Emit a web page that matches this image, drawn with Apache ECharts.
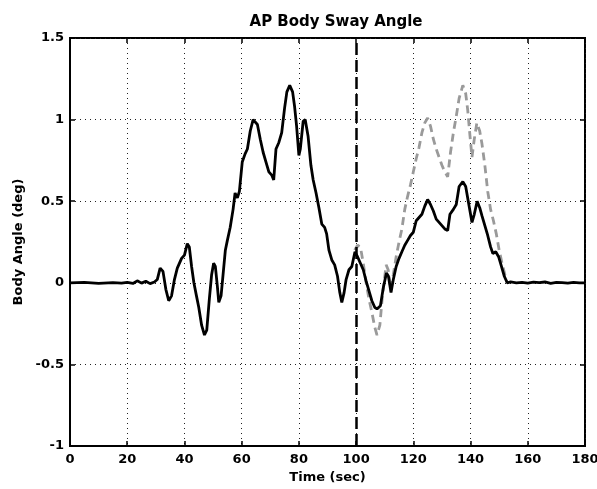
<!DOCTYPE html>
<html>
<head>
<meta charset="utf-8">
<script src="https://cdn.jsdelivr.net/npm/echarts@6/dist/echarts.min.js"></script>
<style>
  html, body { margin: 0; padding: 0; background: #fff; }
  #chart { width: 597px; height: 489px; }
</style>
</head>
<body>
<div id="chart"></div>
<script>
// measured sway (black, solid)
var timeMeasured = [0, 5, 10, 15, 18, 20, 22, 23.5, 25, 26.5, 28, 29.5, 30.5, 31.5, 32.5, 33.5, 34.5, 35.5, 36.5, 37.5,
    39, 40, 41, 41.7, 42.5, 43.3, 44.2, 45, 46, 47, 47.8, 48.7, 49.5, 50.2, 50.8, 51.5, 52, 52.8, 53.5, 54.3,
    55, 56, 57, 57.7, 58.5, 59.2, 60.2, 61.2, 62, 63, 64, 64.6, 65.5, 66.5, 67.5, 68.5, 69.5, 70.5, 71.2, 72,
    73, 74, 75, 75.8, 76.8, 77.8, 78.5, 79.2, 80, 80.5, 81.5, 82.2, 83.2, 84.2, 85, 86, 87, 88, 89, 89.7,
    90.5, 91.5, 92.5, 93.5, 94.3, 95, 95.8, 96.5, 97.5, 98.5, 99.6, 100.5, 101.5, 102.5, 103.5, 104.5, 105.5, 106.5,
    107.3, 108.5, 109.5, 110.6, 111.3, 112.2, 113, 114, 115, 116, 117, 118, 119, 120, 121, 122, 123, 124,
    125, 126, 127, 128, 129, 130, 131, 132, 132.8, 134, 135, 136, 137.3, 138.3, 139, 139.8, 140.5, 141.3, 142.3, 143.2,
    144, 145, 146, 147, 147.8, 148.8, 149.8, 150.8, 151.8, 152.8, 154, 156, 158, 160, 162, 164, 166, 168, 170, 172,
    174, 176, 178, 180];
var angleMeasured = [0, 0.002, -0.003, 0.001, -0.002, 0.003, -0.004, 0.012, -0.002, 0.01, -0.005, 0.005, 0.02, 0.09, 0.07, -0.04, -0.11, -0.08, 0.02, 0.09,
    0.15, 0.17, 0.24, 0.22, 0.1, 0.0, -0.08, -0.15, -0.26, -0.32, -0.29, -0.1, 0.05, 0.12, 0.1, -0.02, -0.12, -0.08, 0.05, 0.2,
    0.26, 0.34, 0.45, 0.55, 0.52, 0.56, 0.74, 0.79, 0.82, 0.93, 1.0, 1.01, 0.97, 0.88, 0.8, 0.74, 0.68, 0.66, 0.63, 0.82,
    0.86, 0.92, 1.07, 1.17, 1.21, 1.17, 1.08, 0.96, 0.78, 0.82, 0.99, 1.0, 0.9, 0.72, 0.63, 0.55, 0.46, 0.36, 0.34, 0.3,
    0.2, 0.14, 0.11, 0.04, -0.06, -0.12, -0.06, 0.02, 0.08, 0.1, 0.19, 0.16, 0.12, 0.08, 0.01, -0.05, -0.11, -0.15,
    -0.16, -0.14, -0.03, 0.06, 0.04, -0.06, 0.02, 0.1, 0.15, 0.19, 0.23, 0.26, 0.29, 0.31, 0.38, 0.4, 0.42, 0.47,
    0.51, 0.48, 0.44, 0.39, 0.37, 0.35, 0.33, 0.32, 0.42, 0.45, 0.48, 0.59, 0.62, 0.59, 0.52, 0.44, 0.37, 0.42, 0.5, 0.46,
    0.41, 0.35, 0.29, 0.22, 0.18, 0.19, 0.16, 0.1, 0.04, 0.0, 0.005, 0.0, 0.003, -0.002, 0.004, 0.001, 0.005, -0.003, 0.002, 0.001,
    -0.002, 0.002, 0.0, 0.0];

// gray dashed trace after the 100 s mark
var timeGray = [99.5, 100.5, 101.5, 102.5, 103.5, 104.5, 105.5, 106.5, 107.3, 108.3, 109.2, 110.5, 111.2, 112.1, 113, 114,
    115, 116, 117, 118, 119, 120, 121, 122, 123, 124, 125, 126, 127, 128, 129, 130, 131, 132, 133, 134,
    135, 136, 137.3, 138.3, 139, 139.8, 140.5, 141.3, 142.2, 143.2, 144, 145, 146, 147, 148, 149, 150, 151, 152, 152.8];
var angleGray = [0.2, 0.23, 0.22, 0.12, 0.0, -0.1, -0.18, -0.27, -0.32, -0.26, -0.08, 0.11, 0.08, -0.04, 0.05, 0.16,
    0.25, 0.33, 0.45, 0.53, 0.6, 0.68, 0.76, 0.83, 0.92, 0.98, 1.01, 0.96, 0.88, 0.82, 0.77, 0.72, 0.68, 0.65, 0.8, 0.92,
    1.02, 1.13, 1.21, 1.16, 1.06, 0.9, 0.77, 0.88, 0.98, 0.93, 0.85, 0.72, 0.56, 0.45, 0.38, 0.3, 0.2, 0.12, 0.05, 0.0];

var markTime = 100;

var zip = (xs, ys) => xs.map((x, i) => [x, ys[i]]);

var chart = echarts.init(document.getElementById('chart'));
var font = 'DejaVu Sans, Liberation Sans, sans-serif';

var labelStyle = { color: '#000', fontFamily: font, fontWeight: 'bold', fontSize: 13 };
var tickStyle = { inside: true, length: 5, lineStyle: { color: '#000', width: 1.5 } };
var dotted = { show: true, lineStyle: { color: '#222', type: [1, 4], width: 1 } };

var option = {
    animation: false,
    backgroundColor: '#fff',
    title: {
        text: 'AP Body Sway Angle',
        left: 331,
        textAlign: 'center',
        top: 10,
        textStyle: { color: '#000', fontFamily: font, fontWeight: 'bold', fontSize: 15 }
    },
    grid: {
        left: 70, right: 12, top: 38, bottom: 43,
        outerBoundsMode: 'none',
        containLabel: false,
        show: true, borderColor: '#000', borderWidth: 2
    },
    xAxis: [{
        type: 'value', min: 0, max: 180, interval: 20,
        name: 'Time (sec)', nameLocation: 'middle', nameGap: 25,
        nameTextStyle: labelStyle,
        axisLine: { onZero: false, lineStyle: { color: '#000', width: 2 } },
        axisTick: tickStyle,
        axisLabel: Object.assign({ margin: 7 }, labelStyle),
        splitLine: dotted
    }, {
        type: 'value', min: 0, max: 180, interval: 20, position: 'top',
        axisLine: { show: false, onZero: false },
        axisTick: tickStyle,
        axisLabel: { show: false },
        splitLine: { show: false }
    }],
    yAxis: [{
        type: 'value', min: -1, max: 1.5, interval: 0.5,
        name: 'Body Angle (deg)', nameLocation: 'middle', nameGap: 42,
        nameTextStyle: labelStyle,
        axisLine: { show: true, onZero: false, lineStyle: { color: '#000', width: 2 } },
        axisTick: Object.assign({ show: true }, tickStyle),
        axisLabel: Object.assign({ margin: 6 }, labelStyle),
        splitLine: dotted
    }, {
        type: 'value', min: -1, max: 1.5, interval: 0.5, position: 'right',
        axisLine: { show: false, onZero: false },
        axisTick: Object.assign({ show: true }, tickStyle),
        axisLabel: { show: false },
        splitLine: { show: false }
    }],
    series: [{
        name: 'Gray',
        type: 'line',
        data: zip(timeGray, angleGray),
        showSymbol: false,
        lineStyle: { color: '#9a9a9a', width: 2.8, type: [8, 5] },
        z: 2
    }, {
        name: 'Measured',
        type: 'line',
        data: zip(timeMeasured, angleMeasured),
        showSymbol: false,
        lineStyle: { color: '#000', width: 2.8 },
        z: 3,
        markLine: {
            silent: true,
            symbol: 'none',
            label: { show: false },
            lineStyle: { color: '#000', width: 2.5, type: [12, 5] },
            data: [{ xAxis: markTime }]
        }
    }]
};

chart.setOption(option);
</script>
</body>
</html>
